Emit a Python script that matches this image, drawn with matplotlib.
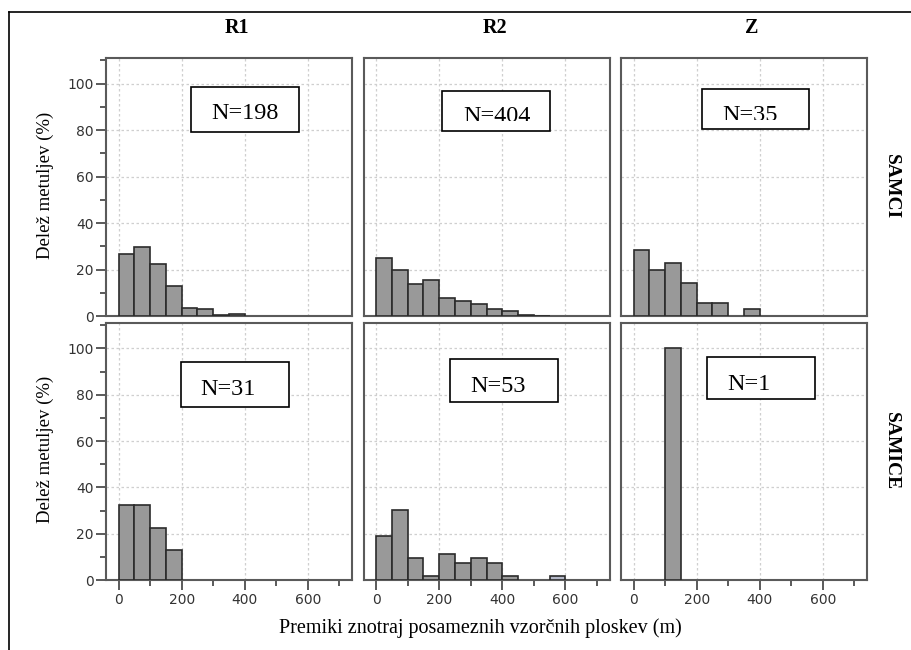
import matplotlib
matplotlib.use("Agg")
import matplotlib.pyplot as plt
from matplotlib.patches import Rectangle
from matplotlib.lines import Line2D
from matplotlib.ticker import MultipleLocator
import numpy as np

# ---------------- data ----------------
bin_width = 50
columns = ["R1", "R2", "Z"]
rows = ["SAMCI", "SAMICE"]
x_ticks = [0, 200, 400, 600]
y_ticks = [0, 20, 40, 60, 80, 100]

r1_samci = [26.8, 29.8, 22.2, 13.1, 3.5, 3.0, 0.5, 1.0]
r2_samci = [25.0, 20.0, 13.9, 15.3, 7.9, 6.4, 5.2, 3.0, 2.2, 0.5, 0.2]
z_samci = [28.6, 20.0, 22.9, 14.3, 5.7, 5.7, 0.0, 2.9]
r1_samice = [32.3, 32.3, 22.6, 12.9]
r2_samice = [18.9, 30.2, 9.4, 1.9, 11.3, 7.5, 9.4, 7.5, 1.9, 0.0, 0.0, 1.9]
z_samice = [0.0, 0.0, 100.0]
# bins drawn in a lighter shade (row, col, bin index)
light_bins = [(1, 1, 11)]

n_counts = [[198, 404, 35], [31, 53, 1]]

values = [[r1_samci, r2_samci, z_samci], [r1_samice, r2_samice, z_samice]]

ylabel = "Delež metuljev (%)"
xlabel = "Premiki znotraj posameznih vzorčnih ploskev (m)"

# ---------------- layout ----------------
W, H = 911, 650
fig = plt.figure(figsize=(W / 100, H / 100), dpi=100)
fig.patch.set_facecolor("white")

def fx(x):
    return x / W

def fy(y):
    return 1 - y / H

col_left = [106, 363.5, 621]
col_w = 246
row_top = [58, 323]
row_bot = [316, 580]

serif = ["Liberation Serif", "DejaVu Serif"]
sans = ["DejaVu Sans"]

bar_face = "#999999"
bar_edge = "#2b2b2b"
light_face = "#b4b8c8"
spine_col = "#5a5a5a"
grid_col = "#cfcfcf"

# label boxes: (x0, y0, x1, y1, text_left, baseline, clip_bottom)
boxes = [
    [(191, 87.3, 298.7, 132.3, 211, 119.3, 132.3),
     (442.3, 90.7, 550.3, 131, 463.3, 122.5, 120.7),
     (702, 88.7, 809.3, 128.7, 722.7, 121.0, 120.0)],
    [(181, 361.7, 288.7, 406.7, 200.7, 395.0, 406.7),
     (450.3, 359.3, 557.7, 401.7, 470.0, 391.7, 401.7),
     (707.3, 356.7, 814.7, 399.3, 727.3, 390.0, 399.3)],
]

for r in range(2):
    for c in range(3):
        ax = fig.add_axes([fx(col_left[c]), fy(row_bot[r]),
                           col_w / W, (row_bot[r] - row_top[r]) / H])
        ax.set_xlim(-40, 740)
        ax.set_ylim(0, 111)
        ax.set_axisbelow(True)
        vals = np.array(values[r][c], dtype=float)
        lefts = np.arange(len(vals)) * bin_width
        for i, (lx, v) in enumerate(zip(lefts, vals)):
            if v <= 0:
                continue
            fc = light_face if (r, c, i) in light_bins else bar_face
            ax.bar(lx, v, width=bin_width, align="edge", color=fc,
                   edgecolor=bar_edge, linewidth=1.2, zorder=3)
        # grid
        for gx in x_ticks:
            ax.axvline(gx, color=grid_col, lw=0.9, ls=(0, (2, 2)), zorder=1)
        for gy in y_ticks[1:]:
            ax.axhline(gy, color=grid_col, lw=0.9, ls=(0, (2, 2)), zorder=1)
        for sp in ax.spines.values():
            sp.set_color(spine_col)
            sp.set_linewidth(1.5)
        ax.set_yticks(y_ticks)
        ax.yaxis.set_minor_locator(MultipleLocator(10))
        ax.set_xticks(x_ticks)
        ax.xaxis.set_minor_locator(MultipleLocator(100))
        ax.tick_params(which="major", length=7, width=1.4, color=spine_col,
                       labelsize=10, labelcolor="#333333", pad=2)
        ax.tick_params(which="minor", length=4, width=1.4, color=spine_col)
        if c == 0:
            for lab in ax.get_yticklabels():
                lab.set_family(sans)
        else:
            ax.tick_params(axis="y", which="both", left=False, labelleft=False)
        if r == 1:
            for lab in ax.get_xticklabels():
                lab.set_family(sans)
        else:
            ax.tick_params(axis="x", which="both", bottom=False, labelbottom=False)

        # N label box
        x0, y0, x1, y1, tl, bl, cb = boxes[r][c]
        rect = Rectangle((fx(x0), fy(y1)), (x1 - x0) / W, (y1 - y0) / H,
                         transform=fig.transFigure, facecolor="white",
                         edgecolor="black", linewidth=1.2, zorder=5)
        fig.patches.append(rect)
        clip = Rectangle((fx(x0), fy(cb)), (x1 - x0) / W, (cb - y0) / H,
                         transform=fig.transFigure, facecolor="none",
                         edgecolor="none")
        fig.patches.append(clip)
        t = fig.text(fx(tl), fy(bl), f"N={n_counts[r][c]}", family=serif,
                     fontsize=17.5, ha="left", va="baseline", zorder=6)
        t.set_clip_path(clip)

# column titles
for c, name in enumerate(columns):
    fig.text(fx(col_left[c] + col_w / 2 + 8), fy(28), name, family=serif,
             fontsize=14.5, fontweight="bold", ha="center", va="center")

# row labels
for r, name in enumerate(rows):
    yc = (row_top[r] + row_bot[r]) / 2
    fig.text(fx(891), fy(yc), name, family=serif, fontsize=14,
             fontweight="bold", rotation=-90, ha="center", va="center")
    fig.text(fx(45), fy(yc - 2), ylabel, family=serif, fontsize=13.5,
             rotation=90, ha="center", va="center")

fig.text(fx(480), fy(628), xlabel, family=serif, fontsize=14.5,
         ha="center", va="center")

# outer frame lines
fig.lines.append(Line2D([fx(9), fx(9)], [fy(12), 0], transform=fig.transFigure,
                        color="black", lw=1.2))
fig.lines.append(Line2D([fx(9), 1], [fy(12), fy(12)], transform=fig.transFigure,
                        color="black", lw=1.2))

fig.savefig("out.png", dpi=100, facecolor="white")
